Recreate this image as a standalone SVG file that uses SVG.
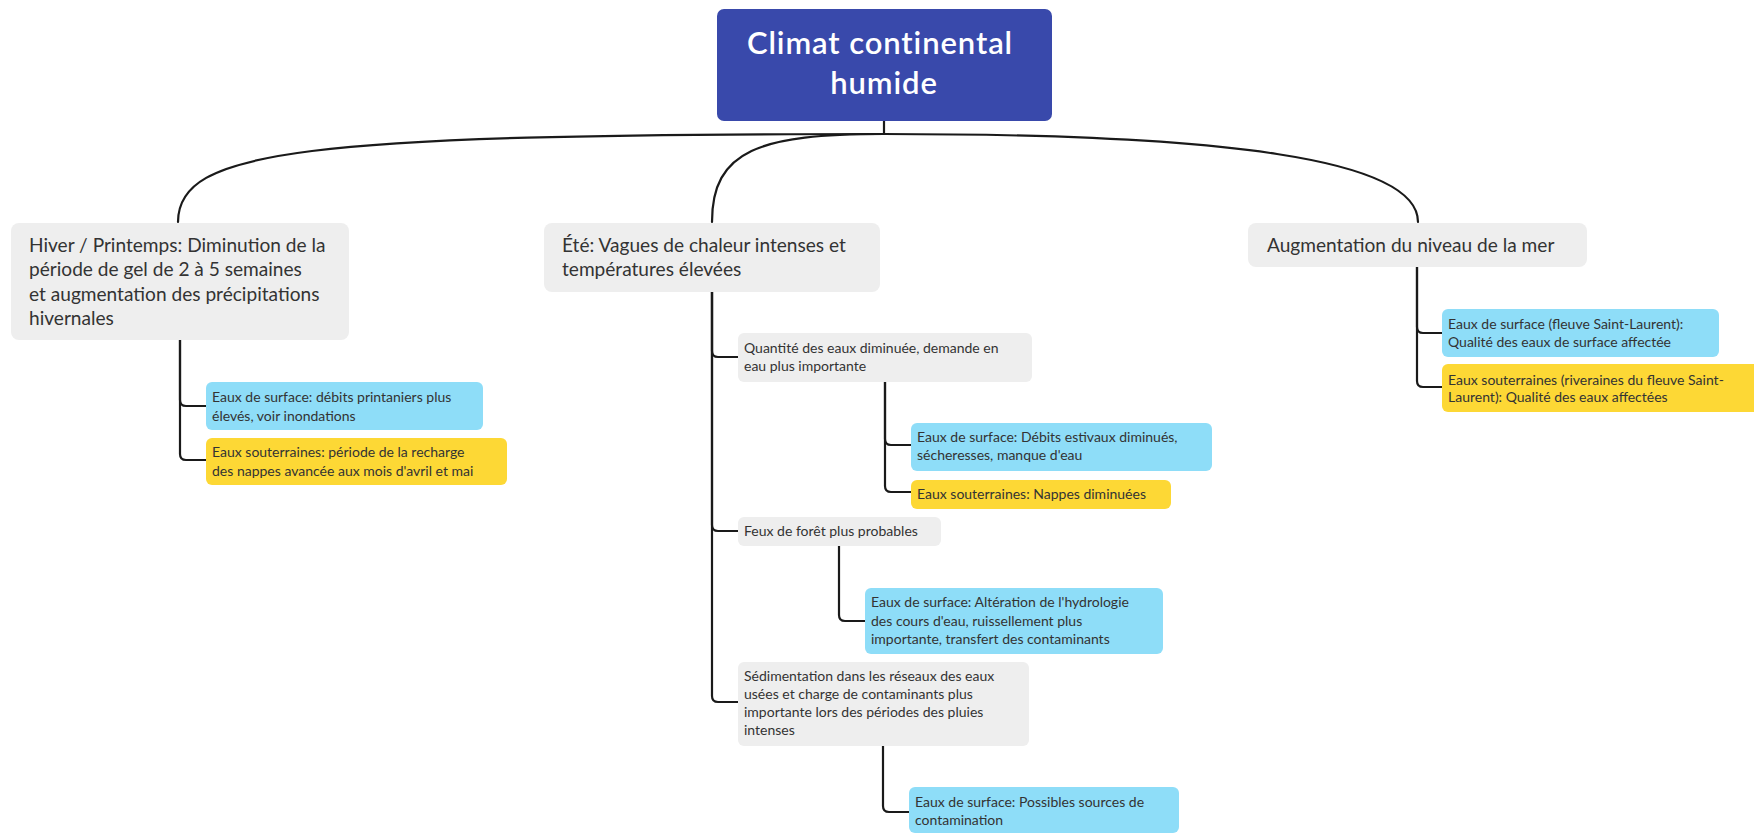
<svg xmlns="http://www.w3.org/2000/svg" width="1754" height="834" viewBox="0 0 1754 834">
<style>
.gray{fill:#EEEEEE}
.blue{fill:#8EDDF8}
.yellow{fill:#FDD835}
.root{fill:#3949AB}
.t1{font-family:Lato,"Open Sans","Noto Sans",sans-serif;font-size:19.1px;fill:#333333}
.t2{font-family:Lato,"Open Sans","Noto Sans",sans-serif;font-size:14px;fill:#333333}
.tr{font-family:Lato,"Open Sans","Noto Sans",sans-serif;font-size:31px;letter-spacing:0.9px;fill:#FFFFFF;font-weight:600;text-anchor:middle}
.c{fill:none;stroke:#1a1a1a;stroke-width:2.2;stroke-linecap:round}
</style>
<rect width="1754" height="834" fill="#FFFFFF"/>
<g id="connectors">
<path class="c" d="M884,121 V134"/>
<path class="c" d="M884,134 C300,134 178,150 178,222"/>
<path class="c" d="M884,134 C760,134 712,150 712,222"/>
<path class="c" d="M884,134 C1220,134 1418,158 1418,222"/>
<path class="c" d="M180,340 V400 Q180,406 186,406 H206"/>
<path class="c" d="M180,340 V454 Q180,460 186,460 H206"/>
<path class="c" d="M712,292 V351 Q712,357 718,357 H738"/>
<path class="c" d="M712,292 V525 Q712,531 718,531 H738"/>
<path class="c" d="M712,292 V696 Q712,702 718,702 H738"/>
<path class="c" d="M885,382 V439 Q885,445 891,445 H911"/>
<path class="c" d="M885,382 V486 Q885,492 891,492 H911"/>
<path class="c" d="M839,546 V615 Q839,621 845,621 H865"/>
<path class="c" d="M883,746 V806 Q883,812 889,812 H909"/>
<path class="c" d="M1417,267 V327 Q1417,333 1423,333 H1442"/>
<path class="c" d="M1417,267 V381 Q1417,387 1423,387 H1442"/>
</g>
<g id="root">
<rect class="root" x="717" y="9" width="335" height="112" rx="7"/>
<text class="tr" x="880" y="54">Climat continental</text>
<text class="tr" x="884" y="94">humide</text>
</g>
<g id="hiver">
<rect class="gray" x="11" y="223" width="338" height="117" rx="8"/>
<text class="t1" x="29" y="252">Hiver / Printemps: Diminution de la</text>
<text class="t1" x="29" y="276">période de gel de 2 à 5 semaines</text>
<text class="t1" x="29" y="301">et augmentation des précipitations</text>
<text class="t1" x="29" y="325">hivernales</text>
</g>
<g id="ete">
<rect class="gray" x="544" y="223" width="336" height="69" rx="8"/>
<text class="t1" x="562" y="252">Été: Vagues de chaleur intenses et</text>
<text class="t1" x="562" y="276">températures élevées</text>
</g>
<g id="augmentation">
<rect class="gray" x="1248" y="223" width="339" height="44" rx="8"/>
<text class="t1" x="1267" y="252">Augmentation du niveau de la mer</text>
</g>
<g id="hiver-surface">
<rect class="blue" x="206" y="382" width="277" height="48" rx="6"/>
<text class="t2" x="212" y="402">Eaux de surface: débits printaniers plus</text>
<text class="t2" x="212" y="421">élevés, voir inondations</text>
</g>
<g id="hiver-souterraines">
<rect class="yellow" x="206" y="438" width="301" height="47" rx="6"/>
<text class="t2" x="212" y="457">Eaux souterraines: période de la recharge</text>
<text class="t2" x="212" y="476">des nappes avancée aux mois d'avril et mai</text>
</g>
<g id="quantite">
<rect class="gray" x="738" y="333" width="294" height="49" rx="6"/>
<text class="t2" x="744" y="353">Quantité des eaux diminuée, demande en</text>
<text class="t2" x="744" y="371">eau plus importante</text>
</g>
<g id="quantite-surface">
<rect class="blue" x="911" y="423" width="301" height="48" rx="6"/>
<text class="t2" x="917" y="442">Eaux de surface: Débits estivaux diminués,</text>
<text class="t2" x="917" y="460">sécheresses, manque d'eau</text>
</g>
<g id="quantite-souterraines">
<rect class="yellow" x="911" y="480" width="260" height="29" rx="6"/>
<text class="t2" x="917" y="499">Eaux souterraines: Nappes diminuées</text>
</g>
<g id="feux">
<rect class="gray" x="738" y="517" width="203" height="29" rx="6"/>
<text class="t2" x="744" y="536">Feux de forêt plus probables</text>
</g>
<g id="feux-surface">
<rect class="blue" x="865" y="588" width="298" height="66" rx="6"/>
<text class="t2" x="871" y="607">Eaux de surface: Altération de l'hydrologie</text>
<text class="t2" x="871" y="626">des cours d'eau, ruissellement plus</text>
<text class="t2" x="871" y="644">importante, transfert des contaminants</text>
</g>
<g id="sedimentation">
<rect class="gray" x="738" y="662" width="291" height="84" rx="6"/>
<text class="t2" x="744" y="681">Sédimentation dans les réseaux des eaux</text>
<text class="t2" x="744" y="699">usées et charge de contaminants plus</text>
<text class="t2" x="744" y="717">importante lors des périodes des pluies</text>
<text class="t2" x="744" y="735">intenses</text>
</g>
<g id="sedimentation-surface">
<rect class="blue" x="909" y="787" width="270" height="46" rx="6"/>
<text class="t2" x="915" y="807">Eaux de surface: Possibles sources de</text>
<text class="t2" x="915" y="825">contamination</text>
</g>
<g id="mer-surface">
<rect class="blue" x="1442" y="309" width="277" height="48" rx="6"/>
<text class="t2" x="1448" y="329">Eaux de surface (fleuve Saint-Laurent):</text>
<text class="t2" x="1448" y="347">Qualité des eaux de surface affectée</text>
</g>
<g id="mer-souterraines">
<rect class="yellow" x="1442" y="364" width="318" height="48" rx="6"/>
<text class="t2" x="1448" y="385">Eaux souterraines (riveraines du fleuve Saint-</text>
<text class="t2" x="1448" y="402">Laurent): Qualité des eaux affectées</text>
</g>
</svg>
